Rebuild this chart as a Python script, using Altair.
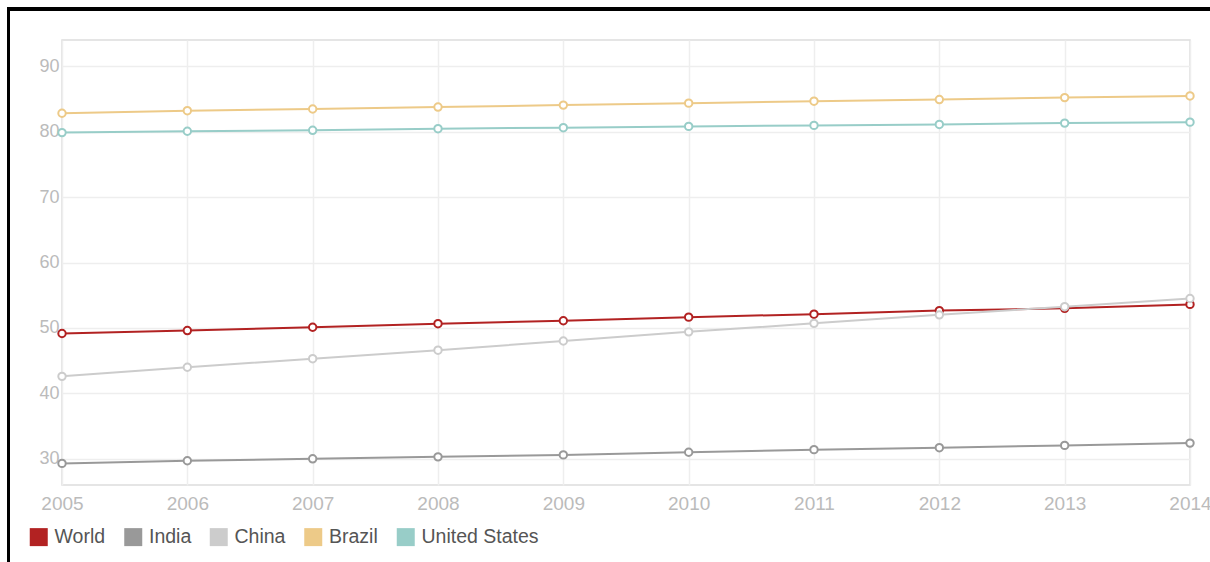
import altair as alt
import pandas as pd

years = [2005, 2006, 2007, 2008, 2009, 2010, 2011, 2012, 2013, 2014]
countries = ["World", "India", "China", "Brazil", "United States"]
colors = ["#b22222", "#999999", "#cccccc", "#edca88", "#98cdc8"]

world = [49.15, 49.6, 50.1, 50.65, 51.1, 51.65, 52.1, 52.65, 53.0, 53.6]
india = [29.3, 29.7, 30.0, 30.3, 30.6, 31.0, 31.4, 31.7, 32.05, 32.4]
china = [42.6, 44.0, 45.3, 46.6, 48.0, 49.4, 50.7, 52.0, 53.25, 54.5]
brazil = [82.8, 83.2, 83.45, 83.75, 84.05, 84.35, 84.65, 84.9, 85.2, 85.45]
usa = [79.85, 80.05, 80.2, 80.45, 80.6, 80.8, 80.95, 81.1, 81.3, 81.45]

series = [world, india, china, brazil, usa]
rows = []
for name, vals in zip(countries, series):
    for yr, v in zip(years, vals):
        rows.append({"year": yr, "country": name, "series": name, "value": v})
df = pd.DataFrame(rows)

W, H = 1128, 445
FONT = "Liberation Sans"

x = alt.X("year:Q", scale=alt.Scale(domain=[2005, 2014], nice=False, zero=False),
          axis=alt.Axis(values=years, format="d", title=None, ticks=False, domain=False,
                        labelFlush=False, labelColor="#bbbbbb", labelFontSize=19, labelPadding=9,
                        gridColor="#eeeeee", gridWidth=1.5, labelFont=FONT))
y = alt.Y("value:Q", scale=alt.Scale(domain=[26, 94], nice=False, zero=False),
          axis=alt.Axis(values=[30, 40, 50, 60, 70, 80, 90], title=None, ticks=False, domain=False,
                        labelColor="#bbbbbb", labelFontSize=18, labelPadding=3,
                        gridColor="#eeeeee", gridWidth=1.5, labelFont=FONT))
color = alt.Color("country:N", sort=countries, scale=alt.Scale(range=colors), legend=None)

lines = alt.Chart(df).mark_line(strokeWidth=2).encode(x=x, y=y, color=color, detail="country:N")
points = alt.Chart(df).mark_point(filled=False, fill="white", size=55, strokeWidth=2, opacity=1).encode(
    x=x, y=y, color=color)

legend_layer = alt.Chart(df).mark_square(size=0).encode(
    x=alt.X("year:Q"), y=alt.Y("value:Q"),
    fill=alt.Fill("series:N", scale=alt.Scale(domain=countries, range=colors),
                  legend=alt.Legend(orient="none", legendX=-33, legendY=487, direction="horizontal",
                                    title=None, symbolType="square", symbolSize=324,
                                    symbolStrokeWidth=0, symbolOpacity=1, labelFontSize=19.5,
                                    labelColor="#555555", labelFont=FONT, labelOffset=6,
                                    columnPadding=17.5, padding=0)))

frame_top = alt.Chart(df).mark_rule(color="black", strokeWidth=3).encode(
    x=alt.value(-55), x2=alt.value(1150), y=alt.value(-31))
frame_left = alt.Chart(df).mark_rule(color="black", strokeWidth=3).encode(
    x=alt.value(-53.5), y=alt.value(-32), y2=alt.value(530))

chart = alt.layer(lines, points, legend_layer, frame_top, frame_left).properties(
    width=W, height=H,
    autosize=alt.AutoSizeParams(type="none"),
    padding={"left": 62, "top": 40, "right": 20, "bottom": 77},
    background="white",
).configure_view(stroke="#dddddd", strokeWidth=1.5)

chart.save("out.html", embed_options={"renderer": "svg", "actions": False})
